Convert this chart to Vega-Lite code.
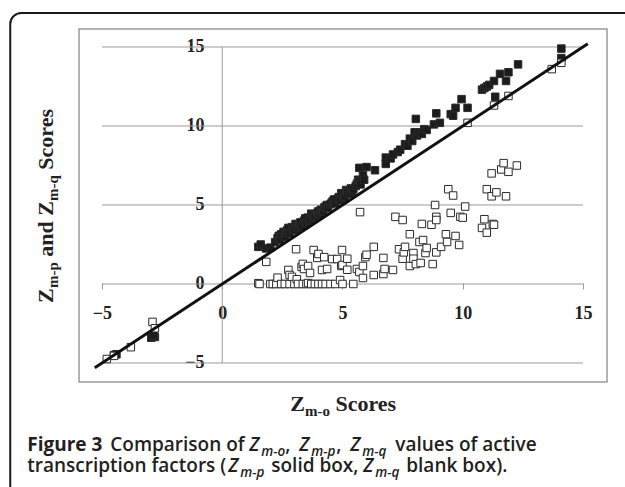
{
  "$schema": "https://vega.github.io/schema/vega-lite/v6.json",
  "width": 528,
  "height": 353,
  "autosize": {"type": "none"},
  "padding": {"left": 79, "top": 29, "right": 18, "bottom": 105},
  "background": "white",
  "config": {
    "view": {"stroke": "#9a9a9a", "strokeWidth": 1.5},
    "axis": {"labelFont": "Liberation Serif", "labelFontWeight": "bold", "labelFontSize": 18, "labelColor": "#222222", "domain": false, "grid": false, "title": null}
  },
  "datasets": {
    "points": [
      {"zmo": -4.5, "score": -4.5, "series": "Zm-p"},
      {"zmo": -4.4, "score": -4.45, "series": "Zm-p"},
      {"zmo": -2.95, "score": -3.4, "series": "Zm-p"},
      {"zmo": -2.8, "score": -3.35, "series": "Zm-p"},
      {"zmo": -2.85, "score": -3.25, "series": "Zm-p"},
      {"zmo": 1.5, "score": 2.35, "series": "Zm-p"},
      {"zmo": 1.6, "score": 2.5, "series": "Zm-p"},
      {"zmo": 1.83, "score": 2.25, "series": "Zm-p"},
      {"zmo": 2.0, "score": 2.3, "series": "Zm-p"},
      {"zmo": 2.2, "score": 2.65, "series": "Zm-p"},
      {"zmo": 2.3, "score": 2.9, "series": "Zm-p"},
      {"zmo": 2.35, "score": 3.05, "series": "Zm-p"},
      {"zmo": 2.4, "score": 2.8, "series": "Zm-p"},
      {"zmo": 2.45, "score": 3.15, "series": "Zm-p"},
      {"zmo": 2.55, "score": 3.3, "series": "Zm-p"},
      {"zmo": 2.6, "score": 3.0, "series": "Zm-p"},
      {"zmo": 2.65, "score": 3.25, "series": "Zm-p"},
      {"zmo": 2.7, "score": 3.4, "series": "Zm-p"},
      {"zmo": 2.75, "score": 3.55, "series": "Zm-p"},
      {"zmo": 2.8, "score": 3.2, "series": "Zm-p"},
      {"zmo": 2.9, "score": 3.6, "series": "Zm-p"},
      {"zmo": 2.95, "score": 3.4, "series": "Zm-p"},
      {"zmo": 3.0, "score": 3.45, "series": "Zm-p"},
      {"zmo": 3.05, "score": 3.8, "series": "Zm-p"},
      {"zmo": 3.1, "score": 3.55, "series": "Zm-p"},
      {"zmo": 3.15, "score": 3.7, "series": "Zm-p"},
      {"zmo": 3.2, "score": 3.8, "series": "Zm-p"},
      {"zmo": 3.25, "score": 3.9, "series": "Zm-p"},
      {"zmo": 3.3, "score": 3.65, "series": "Zm-p"},
      {"zmo": 3.4, "score": 4.0, "series": "Zm-p"},
      {"zmo": 3.45, "score": 4.15, "series": "Zm-p"},
      {"zmo": 3.5, "score": 3.85, "series": "Zm-p"},
      {"zmo": 3.55, "score": 4.2, "series": "Zm-p"},
      {"zmo": 3.6, "score": 4.0, "series": "Zm-p"},
      {"zmo": 3.65, "score": 4.1, "series": "Zm-p"},
      {"zmo": 3.7, "score": 4.45, "series": "Zm-p"},
      {"zmo": 3.75, "score": 4.35, "series": "Zm-p"},
      {"zmo": 3.8, "score": 4.2, "series": "Zm-p"},
      {"zmo": 3.85, "score": 4.25, "series": "Zm-p"},
      {"zmo": 3.95, "score": 4.5, "series": "Zm-p"},
      {"zmo": 4.0, "score": 4.6, "series": "Zm-p"},
      {"zmo": 4.05, "score": 4.4, "series": "Zm-p"},
      {"zmo": 4.1, "score": 4.7, "series": "Zm-p"},
      {"zmo": 4.15, "score": 4.55, "series": "Zm-p"},
      {"zmo": 4.2, "score": 4.6, "series": "Zm-p"},
      {"zmo": 4.25, "score": 4.85, "series": "Zm-p"},
      {"zmo": 4.3, "score": 4.9, "series": "Zm-p"},
      {"zmo": 4.35, "score": 5.0, "series": "Zm-p"},
      {"zmo": 4.4, "score": 4.8, "series": "Zm-p"},
      {"zmo": 4.5, "score": 5.05, "series": "Zm-p"},
      {"zmo": 4.55, "score": 5.15, "series": "Zm-p"},
      {"zmo": 4.6, "score": 5.25, "series": "Zm-p"},
      {"zmo": 4.65, "score": 5.35, "series": "Zm-p"},
      {"zmo": 4.7, "score": 5.1, "series": "Zm-p"},
      {"zmo": 4.8, "score": 5.4, "series": "Zm-p"},
      {"zmo": 4.85, "score": 5.5, "series": "Zm-p"},
      {"zmo": 4.9, "score": 5.3, "series": "Zm-p"},
      {"zmo": 4.95, "score": 5.75, "series": "Zm-p"},
      {"zmo": 5.0, "score": 5.6, "series": "Zm-p"},
      {"zmo": 5.05, "score": 5.45, "series": "Zm-p"},
      {"zmo": 5.1, "score": 5.5, "series": "Zm-p"},
      {"zmo": 5.15, "score": 5.95, "series": "Zm-p"},
      {"zmo": 5.2, "score": 5.8, "series": "Zm-p"},
      {"zmo": 5.3, "score": 5.7, "series": "Zm-p"},
      {"zmo": 5.35, "score": 6.05, "series": "Zm-p"},
      {"zmo": 5.4, "score": 5.85, "series": "Zm-p"},
      {"zmo": 5.45, "score": 6.0, "series": "Zm-p"},
      {"zmo": 5.55, "score": 6.2, "series": "Zm-p"},
      {"zmo": 5.6, "score": 6.35, "series": "Zm-p"},
      {"zmo": 5.65, "score": 6.6, "series": "Zm-p"},
      {"zmo": 5.7, "score": 6.5, "series": "Zm-p"},
      {"zmo": 5.75, "score": 6.3, "series": "Zm-p"},
      {"zmo": 5.7, "score": 7.35, "series": "Zm-p"},
      {"zmo": 5.85, "score": 6.9, "series": "Zm-p"},
      {"zmo": 5.9, "score": 6.6, "series": "Zm-p"},
      {"zmo": 6.0, "score": 7.4, "series": "Zm-p"},
      {"zmo": 6.35, "score": 7.2, "series": "Zm-p"},
      {"zmo": 6.8, "score": 7.6, "series": "Zm-p"},
      {"zmo": 6.8, "score": 8.0, "series": "Zm-p"},
      {"zmo": 7.0, "score": 7.95, "series": "Zm-p"},
      {"zmo": 7.1, "score": 8.2, "series": "Zm-p"},
      {"zmo": 7.3, "score": 8.35, "series": "Zm-p"},
      {"zmo": 7.4, "score": 8.5, "series": "Zm-p"},
      {"zmo": 7.6, "score": 8.85, "series": "Zm-p"},
      {"zmo": 7.7, "score": 8.75, "series": "Zm-p"},
      {"zmo": 7.8, "score": 9.2, "series": "Zm-p"},
      {"zmo": 7.9, "score": 9.05, "series": "Zm-p"},
      {"zmo": 8.0, "score": 9.6, "series": "Zm-p"},
      {"zmo": 8.05, "score": 10.45, "series": "Zm-p"},
      {"zmo": 8.1, "score": 9.4, "series": "Zm-p"},
      {"zmo": 8.2, "score": 9.6, "series": "Zm-p"},
      {"zmo": 8.3, "score": 9.5, "series": "Zm-p"},
      {"zmo": 8.4, "score": 9.8, "series": "Zm-p"},
      {"zmo": 8.5, "score": 9.75, "series": "Zm-p"},
      {"zmo": 8.8, "score": 10.1, "series": "Zm-p"},
      {"zmo": 8.9, "score": 10.8, "series": "Zm-p"},
      {"zmo": 9.05, "score": 10.2, "series": "Zm-p"},
      {"zmo": 9.5, "score": 10.75, "series": "Zm-p"},
      {"zmo": 9.6, "score": 10.65, "series": "Zm-p"},
      {"zmo": 9.7, "score": 11.15, "series": "Zm-p"},
      {"zmo": 9.95, "score": 11.7, "series": "Zm-p"},
      {"zmo": 10.2, "score": 11.15, "series": "Zm-p"},
      {"zmo": 10.8, "score": 12.3, "series": "Zm-p"},
      {"zmo": 10.9, "score": 12.4, "series": "Zm-p"},
      {"zmo": 11.0, "score": 12.5, "series": "Zm-p"},
      {"zmo": 11.1, "score": 12.6, "series": "Zm-p"},
      {"zmo": 11.3, "score": 12.85, "series": "Zm-p"},
      {"zmo": 11.35, "score": 11.85, "series": "Zm-p"},
      {"zmo": 11.55, "score": 13.3, "series": "Zm-p"},
      {"zmo": 11.8, "score": 12.85, "series": "Zm-p"},
      {"zmo": 11.9, "score": 13.4, "series": "Zm-p"},
      {"zmo": 12.3, "score": 13.9, "series": "Zm-p"},
      {"zmo": 14.1, "score": 14.9, "series": "Zm-p"},
      {"zmo": 14.1, "score": 14.3, "series": "Zm-p"},
      {"zmo": -4.8, "score": -4.75, "series": "Zm-q"},
      {"zmo": -4.5, "score": -4.55, "series": "Zm-q"},
      {"zmo": -3.8, "score": -4.0, "series": "Zm-q"},
      {"zmo": -2.9, "score": -2.4, "series": "Zm-q"},
      {"zmo": -2.8, "score": -2.8, "series": "Zm-q"},
      {"zmo": 1.5, "score": 0.05, "series": "Zm-q"},
      {"zmo": 1.55, "score": 0, "series": "Zm-q"},
      {"zmo": 1.83, "score": 1.4, "series": "Zm-q"},
      {"zmo": 2.0, "score": 0, "series": "Zm-q"},
      {"zmo": 2.1, "score": 0, "series": "Zm-q"},
      {"zmo": 2.25, "score": 0, "series": "Zm-q"},
      {"zmo": 2.3, "score": 0.4, "series": "Zm-q"},
      {"zmo": 2.45, "score": 0, "series": "Zm-q"},
      {"zmo": 2.6, "score": 0, "series": "Zm-q"},
      {"zmo": 2.75, "score": 0.89, "series": "Zm-q"},
      {"zmo": 2.8, "score": 0.57, "series": "Zm-q"},
      {"zmo": 2.8, "score": 0, "series": "Zm-q"},
      {"zmo": 2.9, "score": 0.45, "series": "Zm-q"},
      {"zmo": 3.0, "score": 0, "series": "Zm-q"},
      {"zmo": 3.07, "score": 2.2, "series": "Zm-q"},
      {"zmo": 3.1, "score": 0.3, "series": "Zm-q"},
      {"zmo": 3.15, "score": 0, "series": "Zm-q"},
      {"zmo": 3.3, "score": 1.08, "series": "Zm-q"},
      {"zmo": 3.35, "score": 1.27, "series": "Zm-q"},
      {"zmo": 3.35, "score": 0, "series": "Zm-q"},
      {"zmo": 3.4, "score": 0.95, "series": "Zm-q"},
      {"zmo": 3.5, "score": 0, "series": "Zm-q"},
      {"zmo": 3.57, "score": 1.14, "series": "Zm-q"},
      {"zmo": 3.57, "score": 0.06, "series": "Zm-q"},
      {"zmo": 3.65, "score": 0.7, "series": "Zm-q"},
      {"zmo": 3.7, "score": 0, "series": "Zm-q"},
      {"zmo": 3.8, "score": 2.15, "series": "Zm-q"},
      {"zmo": 3.85, "score": 0, "series": "Zm-q"},
      {"zmo": 3.95, "score": 1.65, "series": "Zm-q"},
      {"zmo": 4.0, "score": 1.9, "series": "Zm-q"},
      {"zmo": 4.0, "score": 0, "series": "Zm-q"},
      {"zmo": 4.15, "score": 0.89, "series": "Zm-q"},
      {"zmo": 4.15, "score": 0, "series": "Zm-q"},
      {"zmo": 4.24, "score": 1.7, "series": "Zm-q"},
      {"zmo": 4.3, "score": 0, "series": "Zm-q"},
      {"zmo": 4.36, "score": 0.95, "series": "Zm-q"},
      {"zmo": 4.5, "score": 0, "series": "Zm-q"},
      {"zmo": 4.57, "score": 1.58, "series": "Zm-q"},
      {"zmo": 4.7, "score": 0, "series": "Zm-q"},
      {"zmo": 4.78, "score": 1.58, "series": "Zm-q"},
      {"zmo": 4.9, "score": 0.25, "series": "Zm-q"},
      {"zmo": 4.95, "score": 1.14, "series": "Zm-q"},
      {"zmo": 4.98, "score": 2.15, "series": "Zm-q"},
      {"zmo": 5.0, "score": 0, "series": "Zm-q"},
      {"zmo": 5.0, "score": 1.2, "series": "Zm-q"},
      {"zmo": 5.2, "score": 1.6, "series": "Zm-q"},
      {"zmo": 5.2, "score": 0.9, "series": "Zm-q"},
      {"zmo": 5.45, "score": 0, "series": "Zm-q"},
      {"zmo": 5.6, "score": 0.95, "series": "Zm-q"},
      {"zmo": 5.7, "score": 0.76, "series": "Zm-q"},
      {"zmo": 5.73, "score": 4.55, "series": "Zm-q"},
      {"zmo": 5.85, "score": 1.14, "series": "Zm-q"},
      {"zmo": 5.85, "score": 0.38, "series": "Zm-q"},
      {"zmo": 5.95, "score": 1.7, "series": "Zm-q"},
      {"zmo": 6.0, "score": 1.85, "series": "Zm-q"},
      {"zmo": 6.3, "score": 2.35, "series": "Zm-q"},
      {"zmo": 6.3, "score": 0.57, "series": "Zm-q"},
      {"zmo": 6.7, "score": 1.65, "series": "Zm-q"},
      {"zmo": 6.7, "score": 0.63, "series": "Zm-q"},
      {"zmo": 6.75, "score": 0.95, "series": "Zm-q"},
      {"zmo": 7.1, "score": 0.89, "series": "Zm-q"},
      {"zmo": 7.2, "score": 4.25, "series": "Zm-q"},
      {"zmo": 7.35, "score": 2.2, "series": "Zm-q"},
      {"zmo": 7.5, "score": 4.05, "series": "Zm-q"},
      {"zmo": 7.5, "score": 1.6, "series": "Zm-q"},
      {"zmo": 7.55, "score": 2.0, "series": "Zm-q"},
      {"zmo": 7.6, "score": 2.35, "series": "Zm-q"},
      {"zmo": 7.8, "score": 3.15, "series": "Zm-q"},
      {"zmo": 7.8, "score": 1.14, "series": "Zm-q"},
      {"zmo": 7.95, "score": 1.96, "series": "Zm-q"},
      {"zmo": 7.95, "score": 1.6, "series": "Zm-q"},
      {"zmo": 8.05, "score": 1.26, "series": "Zm-q"},
      {"zmo": 8.2, "score": 2.66, "series": "Zm-q"},
      {"zmo": 8.25, "score": 1.33, "series": "Zm-q"},
      {"zmo": 8.3, "score": 3.8, "series": "Zm-q"},
      {"zmo": 8.35, "score": 2.78, "series": "Zm-q"},
      {"zmo": 8.45, "score": 1.96, "series": "Zm-q"},
      {"zmo": 8.5, "score": 2.28, "series": "Zm-q"},
      {"zmo": 8.7, "score": 3.75, "series": "Zm-q"},
      {"zmo": 8.75, "score": 1.26, "series": "Zm-q"},
      {"zmo": 8.85, "score": 5.0, "series": "Zm-q"},
      {"zmo": 8.9, "score": 4.25, "series": "Zm-q"},
      {"zmo": 8.9, "score": 4.05, "series": "Zm-q"},
      {"zmo": 8.9, "score": 2.0, "series": "Zm-q"},
      {"zmo": 9.1, "score": 2.35, "series": "Zm-q"},
      {"zmo": 9.3, "score": 3.15, "series": "Zm-q"},
      {"zmo": 9.35, "score": 2.66, "series": "Zm-q"},
      {"zmo": 9.4, "score": 6.0, "series": "Zm-q"},
      {"zmo": 9.5, "score": 4.5, "series": "Zm-q"},
      {"zmo": 9.6, "score": 5.6, "series": "Zm-q"},
      {"zmo": 9.7, "score": 3.04, "series": "Zm-q"},
      {"zmo": 9.85, "score": 2.47, "series": "Zm-q"},
      {"zmo": 9.9, "score": 4.25, "series": "Zm-q"},
      {"zmo": 10.0, "score": 4.2, "series": "Zm-q"},
      {"zmo": 10.1, "score": 4.9, "series": "Zm-q"},
      {"zmo": 10.2, "score": 10.2, "series": "Zm-q"},
      {"zmo": 10.8, "score": 3.55, "series": "Zm-q"},
      {"zmo": 10.9, "score": 4.1, "series": "Zm-q"},
      {"zmo": 11.0, "score": 3.25, "series": "Zm-q"},
      {"zmo": 11.0, "score": 6.0, "series": "Zm-q"},
      {"zmo": 11.2, "score": 5.55, "series": "Zm-q"},
      {"zmo": 11.2, "score": 7.0, "series": "Zm-q"},
      {"zmo": 11.25, "score": 3.8, "series": "Zm-q"},
      {"zmo": 11.3, "score": 3.75, "series": "Zm-q"},
      {"zmo": 11.3, "score": 11.3, "series": "Zm-q"},
      {"zmo": 11.4, "score": 5.8, "series": "Zm-q"},
      {"zmo": 11.6, "score": 7.25, "series": "Zm-q"},
      {"zmo": 11.7, "score": 7.65, "series": "Zm-q"},
      {"zmo": 11.8, "score": 5.55, "series": "Zm-q"},
      {"zmo": 11.9, "score": 7.1, "series": "Zm-q"},
      {"zmo": 11.9, "score": 11.9, "series": "Zm-q"},
      {"zmo": 12.25, "score": 7.5, "series": "Zm-q"},
      {"zmo": 13.7, "score": 13.6, "series": "Zm-q"},
      {"zmo": 14.1, "score": 14.0, "series": "Zm-q"}
    ],
    "diag": [{"zmo": -5.3, "score": -5.3}, {"zmo": 15.2, "score": 15.2}]
  },
  "layer": [
    {
      "data": {"values": [{}]},
      "mark": {"type": "rect", "fill": "transparent", "stroke": "#1a1a1a", "strokeWidth": 2, "cornerRadius": 11},
      "encoding": {"x": {"datum": -8.815}, "x2": {"datum": 17.6}, "y": {"datum": 17.15}, "y2": {"datum": -14}}
    },
    {"data": {"values": [{}]}, "mark": {"type": "rule", "color": "#9a9a9a", "strokeWidth": 1}, "encoding": {"y": {"datum": -5}, "x": {"datum": -5}, "x2": {"datum": 15}}},
    {"data": {"values": [{}]}, "mark": {"type": "rule", "color": "#9a9a9a", "strokeWidth": 1}, "encoding": {"y": {"datum": 0}, "x": {"datum": -5}, "x2": {"datum": 15}}},
    {"data": {"values": [{}]}, "mark": {"type": "rule", "color": "#9a9a9a", "strokeWidth": 1}, "encoding": {"y": {"datum": 5}, "x": {"datum": -5}, "x2": {"datum": 15}}},
    {"data": {"values": [{}]}, "mark": {"type": "rule", "color": "#9a9a9a", "strokeWidth": 1}, "encoding": {"y": {"datum": 10}, "x": {"datum": -5}, "x2": {"datum": 15}}},
    {"data": {"values": [{}]}, "mark": {"type": "rule", "color": "#9a9a9a", "strokeWidth": 1}, "encoding": {"y": {"datum": 15}, "x": {"datum": -5}, "x2": {"datum": 15}}},
    {"data": {"values": [{}]}, "mark": {"type": "rule", "color": "#9a9a9a", "strokeWidth": 1}, "encoding": {"x": {"datum": 0}, "y": {"datum": -5}, "y2": {"datum": 15}}},
    {
      "data": {"name": "points"},
      "mark": {"type": "point", "shape": "square", "size": 56, "filled": true, "stroke": "#2a2a2a", "strokeWidth": 1, "opacity": 1},
      "encoding": {
        "x": {"field": "zmo", "type": "quantitative", "scale": {"domain": [-5.956, 15.998], "nice": false, "zero": false},
              "axis": {"orient": "bottom", "offset": -99, "values": [-5, 0, 5, 10, 15], "ticks": true, "tickSize": 6, "tickColor": "#9a9a9a", "labelPadding": 15, "labelBaseline": "top"}},
        "y": {"field": "score", "type": "quantitative", "scale": {"domain": [-6.203, 16.139], "nice": false, "zero": false},
              "axis": {"orient": "left", "offset": -143, "values": [-5, 0, 5, 10, 15], "ticks": false, "tickSize": 0, "labelPadding": 18}},
        "fill": {"field": "series", "type": "nominal", "scale": {"domain": ["Zm-p", "Zm-q"], "range": ["#1c1c1c", "#ffffff"]}, "legend": null}
      }
    },
    {
      "data": {"name": "diag"},
      "mark": {"type": "line", "color": "#111111", "strokeWidth": 3},
      "encoding": {"x": {"field": "zmo", "type": "quantitative"}, "y": {"field": "score", "type": "quantitative"}}
    },
    {"data": {"values": [{}]}, "mark": {"type": "text", "text": "Z", "font": "Liberation Serif", "fontWeight": "bold", "fontSize": 22, "align": "left", "baseline": "alphabetic", "color": "#222222", "dx": 0}, "encoding": {"x": {"datum": 2.827}, "y": {"datum": -8.038}}},
    {"data": {"values": [{}]}, "mark": {"type": "text", "text": "m-o", "font": "Liberation Serif", "fontWeight": "bold", "fontSize": 15, "align": "left", "baseline": "alphabetic", "color": "#222222", "dx": 14.7, "dy": 5}, "encoding": {"x": {"datum": 2.827}, "y": {"datum": -8.038}}},
    {"data": {"values": [{}]}, "mark": {"type": "text", "text": "Scores", "font": "Liberation Serif", "fontWeight": "bold", "fontSize": 22, "align": "left", "baseline": "alphabetic", "color": "#222222", "dx": 45.2}, "encoding": {"x": {"datum": 2.827}, "y": {"datum": -8.038}}},
    {"data": {"values": [{}]}, "mark": {"type": "text", "text": "Z", "angle": 270, "font": "Liberation Serif", "fontWeight": "bold", "fontSize": 22, "align": "left", "baseline": "alphabetic", "color": "#222222", "dx": 0}, "encoding": {"x": {"datum": -7.027}, "y": {"datum": -1.203}}},
    {"data": {"values": [{}]}, "mark": {"type": "text", "text": "m-p", "angle": 270, "font": "Liberation Serif", "fontWeight": "bold", "fontSize": 15, "align": "left", "baseline": "alphabetic", "color": "#222222", "dx": 15, "dy": 5}, "encoding": {"x": {"datum": -7.027}, "y": {"datum": -1.203}}},
    {"data": {"values": [{}]}, "mark": {"type": "text", "text": "and", "angle": 270, "font": "Liberation Serif", "fontWeight": "bold", "fontSize": 22, "align": "left", "baseline": "alphabetic", "color": "#222222", "dx": 46.3}, "encoding": {"x": {"datum": -7.027}, "y": {"datum": -1.203}}},
    {"data": {"values": [{}]}, "mark": {"type": "text", "text": "Z", "angle": 270, "font": "Liberation Serif", "fontWeight": "bold", "fontSize": 22, "align": "left", "baseline": "alphabetic", "color": "#222222", "dx": 87.3}, "encoding": {"x": {"datum": -7.027}, "y": {"datum": -1.203}}},
    {"data": {"values": [{}]}, "mark": {"type": "text", "text": "m-q", "angle": 270, "font": "Liberation Serif", "fontWeight": "bold", "fontSize": 15, "align": "left", "baseline": "alphabetic", "color": "#222222", "dx": 102, "dy": 5}, "encoding": {"x": {"datum": -7.027}, "y": {"datum": -1.203}}},
    {"data": {"values": [{}]}, "mark": {"type": "text", "text": "Scores", "angle": 270, "font": "Liberation Serif", "fontWeight": "bold", "fontSize": 22, "align": "left", "baseline": "alphabetic", "color": "#222222", "dx": 133.3}, "encoding": {"x": {"datum": -7.027}, "y": {"datum": -1.203}}},
    {"data": {"values": [{}]}, "mark": {"type": "text", "text": "Figure 3", "font": "Open Sans", "fontWeight": 700, "fontSize": 19, "align": "left", "baseline": "alphabetic", "color": "#231f20", "dx": 0}, "encoding": {"x": {"datum": -8.108}, "y": {"datum": -10.57}}},
    {"data": {"values": [{}]}, "mark": {"type": "text", "text": "Comparison of", "font": "Open Sans", "fontWeight": 600, "fontSize": 19, "align": "left", "baseline": "alphabetic", "color": "#231f20", "dx": 83}, "encoding": {"x": {"datum": -8.108}, "y": {"datum": -10.57}}},
    {"data": {"values": [{}]}, "mark": {"type": "text", "text": "Z", "font": "Open Sans", "fontWeight": 600, "fontStyle": "italic", "fontSize": 19, "align": "left", "baseline": "alphabetic", "color": "#231f20", "dx": 222}, "encoding": {"x": {"datum": -8.108}, "y": {"datum": -10.57}}},
    {"data": {"values": [{}]}, "mark": {"type": "text", "text": "m-o", "font": "Open Sans", "fontWeight": 600, "fontStyle": "italic", "fontSize": 13.5, "align": "left", "baseline": "alphabetic", "color": "#231f20", "dx": 234, "dy": 5}, "encoding": {"x": {"datum": -8.108}, "y": {"datum": -10.57}}},
    {"data": {"values": [{}]}, "mark": {"type": "text", "text": ",", "font": "Open Sans", "fontWeight": 600, "fontSize": 19, "align": "left", "baseline": "alphabetic", "color": "#231f20", "dx": 258}, "encoding": {"x": {"datum": -8.108}, "y": {"datum": -10.57}}},
    {"data": {"values": [{}]}, "mark": {"type": "text", "text": "Z", "font": "Open Sans", "fontWeight": 600, "fontStyle": "italic", "fontSize": 19, "align": "left", "baseline": "alphabetic", "color": "#231f20", "dx": 272}, "encoding": {"x": {"datum": -8.108}, "y": {"datum": -10.57}}},
    {"data": {"values": [{}]}, "mark": {"type": "text", "text": "m-p", "font": "Open Sans", "fontWeight": 600, "fontStyle": "italic", "fontSize": 13.5, "align": "left", "baseline": "alphabetic", "color": "#231f20", "dx": 284, "dy": 5}, "encoding": {"x": {"datum": -8.108}, "y": {"datum": -10.57}}},
    {"data": {"values": [{}]}, "mark": {"type": "text", "text": ",", "font": "Open Sans", "fontWeight": 600, "fontSize": 19, "align": "left", "baseline": "alphabetic", "color": "#231f20", "dx": 309}, "encoding": {"x": {"datum": -8.108}, "y": {"datum": -10.57}}},
    {"data": {"values": [{}]}, "mark": {"type": "text", "text": "Z", "font": "Open Sans", "fontWeight": 600, "fontStyle": "italic", "fontSize": 19, "align": "left", "baseline": "alphabetic", "color": "#231f20", "dx": 323}, "encoding": {"x": {"datum": -8.108}, "y": {"datum": -10.57}}},
    {"data": {"values": [{}]}, "mark": {"type": "text", "text": "m-q", "font": "Open Sans", "fontWeight": 600, "fontStyle": "italic", "fontSize": 13.5, "align": "left", "baseline": "alphabetic", "color": "#231f20", "dx": 335, "dy": 5}, "encoding": {"x": {"datum": -8.108}, "y": {"datum": -10.57}}},
    {"data": {"values": [{}]}, "mark": {"type": "text", "text": "values of active", "font": "Open Sans", "fontWeight": 600, "fontSize": 19, "align": "left", "baseline": "alphabetic", "color": "#231f20", "dx": 368}, "encoding": {"x": {"datum": -8.108}, "y": {"datum": -10.57}}},
    {"data": {"values": [{}]}, "mark": {"type": "text", "text": "transcription factors (", "font": "Open Sans", "fontWeight": 600, "fontSize": 19, "align": "left", "baseline": "alphabetic", "color": "#231f20", "dx": 0}, "encoding": {"x": {"datum": -8.108}, "y": {"datum": -11.9}}},
    {"data": {"values": [{}]}, "mark": {"type": "text", "text": "Z", "font": "Open Sans", "fontWeight": 600, "fontStyle": "italic", "fontSize": 19, "align": "left", "baseline": "alphabetic", "color": "#231f20", "dx": 201}, "encoding": {"x": {"datum": -8.108}, "y": {"datum": -11.9}}},
    {"data": {"values": [{}]}, "mark": {"type": "text", "text": "m-p", "font": "Open Sans", "fontWeight": 600, "fontStyle": "italic", "fontSize": 13.5, "align": "left", "baseline": "alphabetic", "color": "#231f20", "dx": 213, "dy": 5}, "encoding": {"x": {"datum": -8.108}, "y": {"datum": -11.9}}},
    {"data": {"values": [{}]}, "mark": {"type": "text", "text": "solid box,", "font": "Open Sans", "fontWeight": 600, "fontSize": 19, "align": "left", "baseline": "alphabetic", "color": "#231f20", "dx": 244}, "encoding": {"x": {"datum": -8.108}, "y": {"datum": -11.9}}},
    {"data": {"values": [{}]}, "mark": {"type": "text", "text": "Z", "font": "Open Sans", "fontWeight": 600, "fontStyle": "italic", "fontSize": 19, "align": "left", "baseline": "alphabetic", "color": "#231f20", "dx": 336}, "encoding": {"x": {"datum": -8.108}, "y": {"datum": -11.9}}},
    {"data": {"values": [{}]}, "mark": {"type": "text", "text": "m-q", "font": "Open Sans", "fontWeight": 600, "fontStyle": "italic", "fontSize": 13.5, "align": "left", "baseline": "alphabetic", "color": "#231f20", "dx": 348, "dy": 5}, "encoding": {"x": {"datum": -8.108}, "y": {"datum": -11.9}}},
    {"data": {"values": [{}]}, "mark": {"type": "text", "text": "blank box).", "font": "Open Sans", "fontWeight": 600, "fontSize": 19, "align": "left", "baseline": "alphabetic", "color": "#231f20", "dx": 379}, "encoding": {"x": {"datum": -8.108}, "y": {"datum": -11.9}}}
  ]
}
